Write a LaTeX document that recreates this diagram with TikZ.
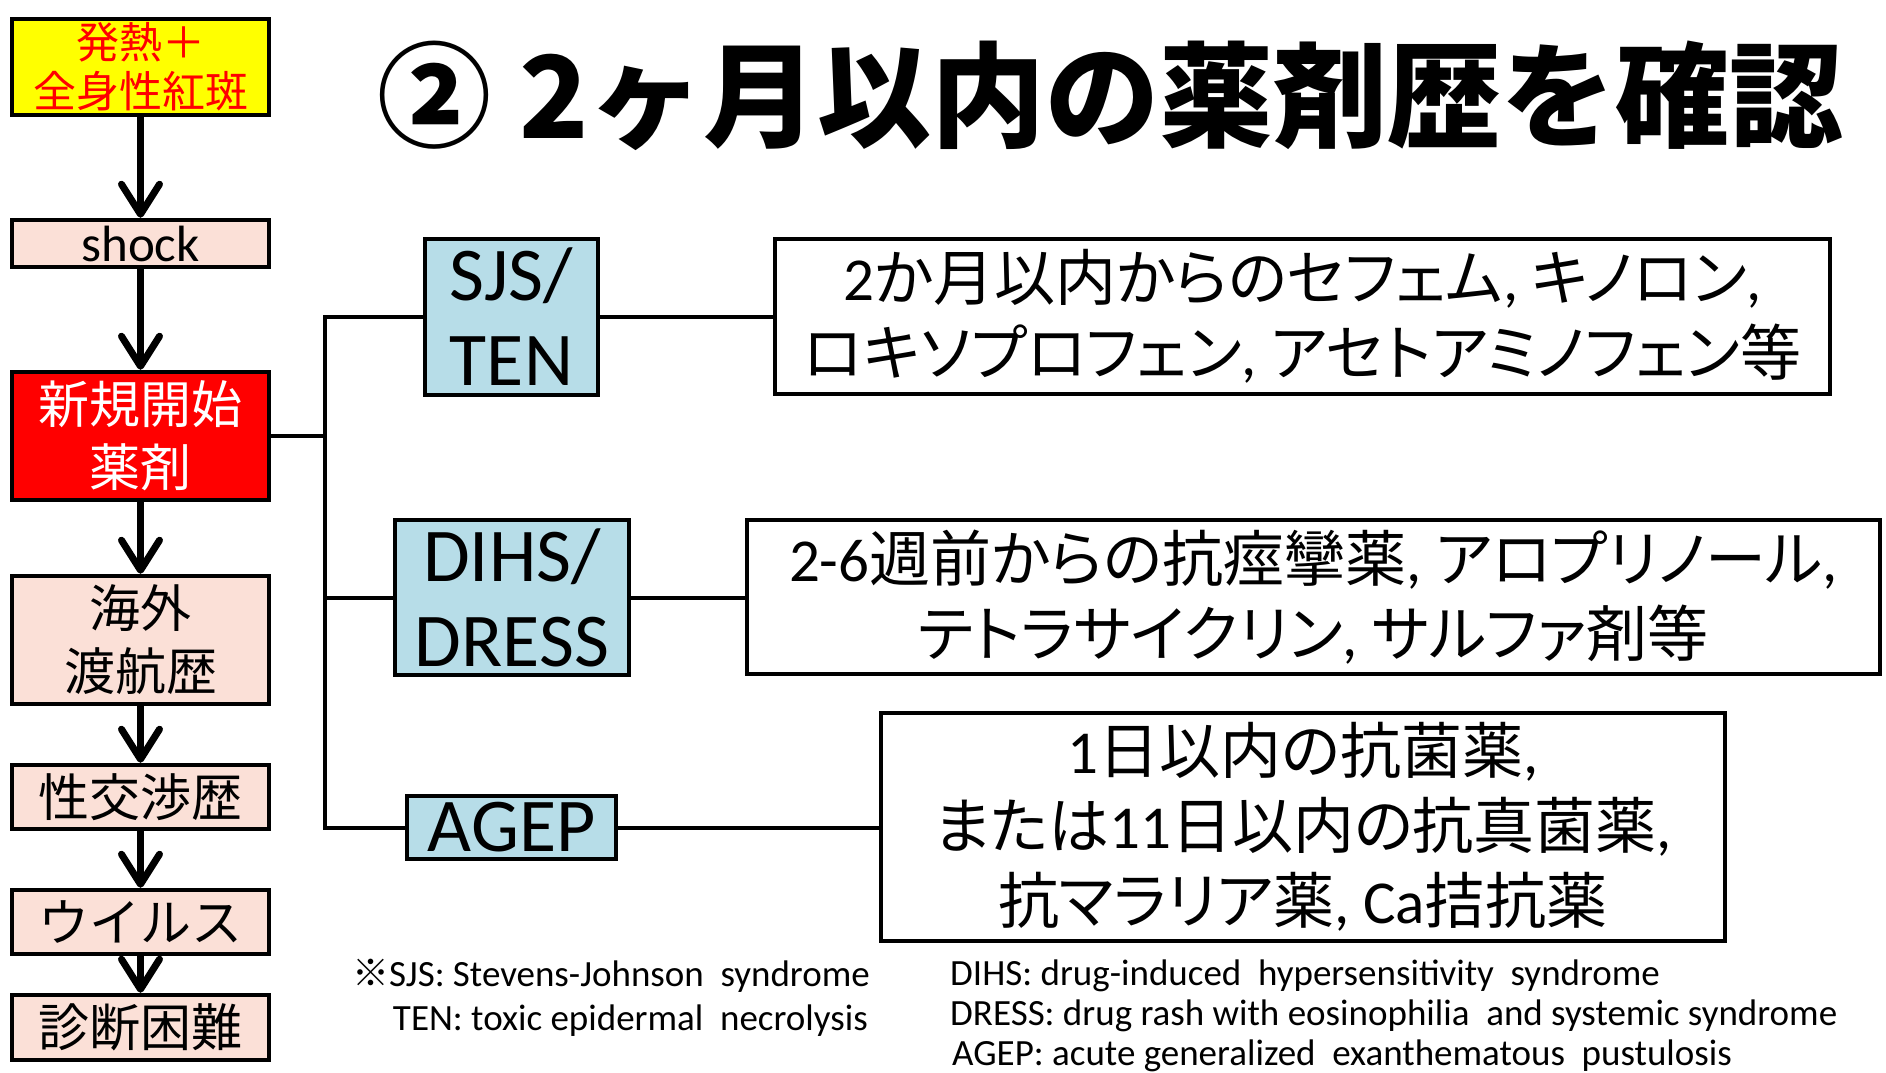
\documentclass[tikz,border=0pt]{standalone}
\usepackage{fontspec}
\setmainfont{Carlito}
\newfontfamily\jp{Noto Sans CJK JP}
\newfontfamily\jpp[RawFeature=+palt]{Noto Sans CJK JP}
\newfontfamily\lt{Carlito}
\usetikzlibrary{arrows.meta}
\definecolor{pinkbox}{HTML}{FBE0D7}
\definecolor{bluebox}{HTML}{B7DDE8}
\definecolor{yelbox}{HTML}{FFFF00}
\definecolor{redbox}{HTML}{FF0000}
\begin{document}
\begin{tikzpicture}[x=1pt,y=-1pt,
  box/.style={draw=black, line width=4.5pt, inner sep=0pt, align=center},
  leftbox/.style={box, minimum width=257pt, font=\fontsize{51}{63}\selectfont\jp},
  pinkb/.style={leftbox, fill=pinkbox},
  bluebx/.style={box, fill=bluebox, font=\fontsize{76}{85}\selectfont\lt},
  whitebx/.style={box, fill=white, font=\fontsize{61}{75}\selectfont\jpp},
  arr/.style={line width=7pt, -{Straight Barb[length=30pt,width=38pt,line width=7pt,round]}},
  conn/.style={line width=4pt},
  note/.style={inner sep=0pt, font=\fontsize{37}{40}\selectfont\lt}
]
\path[use as bounding box, fill=white] (0,0) rectangle (1886,1072);

% title
\node[inner sep=0pt, anchor=west, font=\fontsize{114}{120}\selectfont\jp\bfseries] (title) at (377,96) {②\hspace{0.25em}2ヶ月以内の薬剤歴を確認};

% left column
\node[leftbox, fill=yelbox, minimum height=96pt, text=red, font=\fontsize{43}{49}\selectfont\jp] (fever) at (140.5,67) {発熱＋\\全身性紅斑};
\node[pinkb, minimum height=47pt, font=\fontsize{51}{63}\selectfont\lt] (shock) at (140.5,243.5) {shock};
\node[leftbox, fill=redbox, text=white, minimum height=128pt] (newdrug) at (140.5,436) {新規開始\\薬剤};
\node[pinkb, minimum height=128pt] (travel) at (140.5,640) {海外\\渡航歴};
\node[pinkb, minimum height=64pt] (sex) at (140.5,797) {性交渉歴};
\node[pinkb, minimum height=64pt] (virus) at (140.5,922) {ウイルス};
\node[pinkb, minimum height=65pt] (diff) at (140.5,1027.5) {診断困難};

\draw[arr] (fever.south) -- (shock.north);
\draw[arr] (shock.south) -- (newdrug.north);
\draw[arr] (newdrug.south) -- (travel.north);
\draw[arr] (travel.south) -- (sex.north);
\draw[arr] (sex.south) -- (virus.north);
\draw[arr] (virus.south) -- (diff.north);

% blue boxes
\node[bluebx, minimum width=173pt, minimum height=156pt] (sjs) at (511.5,317) {SJS/\\TEN};
\node[bluebx, minimum width=234pt, minimum height=155pt] (dihs) at (512,597.5) {DIHS/\\DRESS};
\node[bluebx, minimum width=209pt, minimum height=63pt] (agep) at (511.5,827.5) {AGEP};

% white boxes
\node[whitebx, minimum width=1055pt, minimum height=155pt] (b1) at (1302.5,316.5)
  {{\lt 2}か月以内からのセフェム{\lt, }キノロン{\lt ,}\\ロキソプロフェン{\lt, }アセトアミノフェン等};
\node[whitebx, minimum width=1133pt, minimum height=154pt] (b2) at (1313.5,597)
  {{\lt 2-6}週前からの抗痙攣薬{\lt, }アロプリノール{\lt ,}\\テトラサイクリン{\lt, }サルファ剤等};
\node[whitebx, minimum width=844pt, minimum height=228pt] (b3) at (1303,827)
  {{\lt 1}日以内の抗菌薬{\lt ,}\\または{\lt 11}日以内の抗真菌薬{\lt ,}\\抗マラリア薬{\lt, Ca}拮抗薬};

% connectors
\coordinate (bj) at (325,436);
\draw[conn] (newdrug.east) -- (bj);
\draw[conn] (sjs.west) -| (bj) |- (agep.west);
\draw[conn] (dihs.west) -- (dihs.west -| bj);
\draw[conn] (sjs.east) -- (sjs.east -| b1.west);
\draw[conn] (dihs.east) -- (dihs.east -| b2.west);
\draw[conn] (agep.east) -- (agep.east -| b3.west);

% footnotes
\node[note, anchor=east] (n1) at (870,976) {{\jp ※}SJS: Stevens-Johnson\ \ syndrome};
\node[note, anchor=east] (n2) at (868,1021) {TEN: toxic epidermal\ \ necrolysis};
\node[note, anchor=west] (n3) at (950,976) {DIHS: drug-induced\ \ hypersensitivity\ \ syndrome};
\node[note, anchor=west] (n4) at (950,1016) {DRESS: drug rash with eosinophilia\ \ and systemic syndrome};
\node[note, anchor=west] (n5) at (952,1056) {AGEP: acute generalized\ \ exanthematous\ \ pustulosis};
\end{tikzpicture}
\end{document}
